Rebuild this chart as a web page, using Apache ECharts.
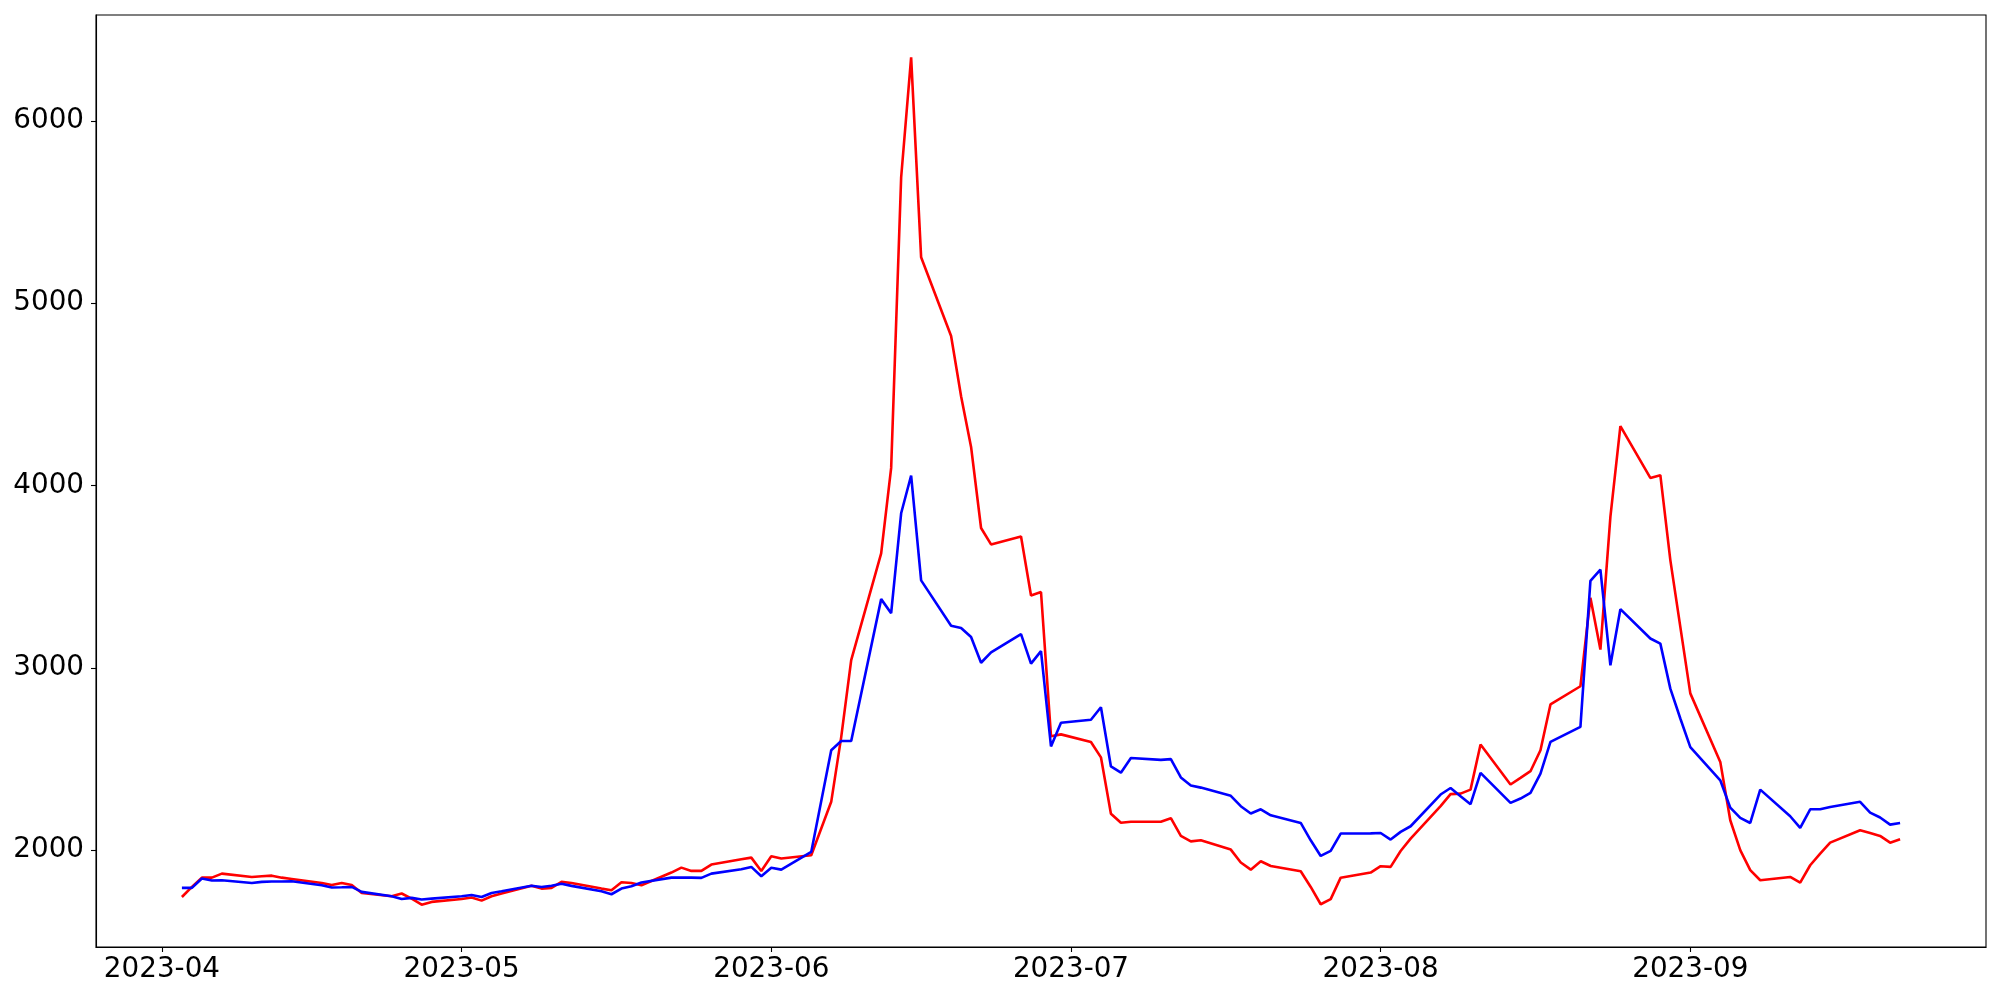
<!DOCTYPE html>
<html>
<head>
<meta charset="utf-8">
<script src="https://cdn.jsdelivr.net/npm/echarts@6/dist/echarts.min.js"></script>
<style>
  html, body { margin: 0; padding: 0; background: #ffffff; }
  #chart { width: 2000px; height: 1000px; }
</style>
</head>
<body>
<div id="chart"></div>
<script>
// Trading dates (weekdays)
const dates = [
  '2023-04-03','2023-04-04','2023-04-05','2023-04-06','2023-04-07',
  '2023-04-10','2023-04-11','2023-04-12','2023-04-13','2023-04-14',
  '2023-04-17','2023-04-18','2023-04-19','2023-04-20','2023-04-21',
  '2023-04-24','2023-04-25','2023-04-26','2023-04-27','2023-04-28',
  '2023-05-01','2023-05-02','2023-05-03','2023-05-04','2023-05-05',
  '2023-05-08','2023-05-09','2023-05-10','2023-05-11','2023-05-12',
  '2023-05-15','2023-05-16','2023-05-17','2023-05-18','2023-05-19',
  '2023-05-22','2023-05-23','2023-05-24','2023-05-25','2023-05-26',
  '2023-05-29','2023-05-30','2023-05-31','2023-06-01','2023-06-02',
  '2023-06-05','2023-06-07','2023-06-08','2023-06-09',
  '2023-06-12','2023-06-13','2023-06-14','2023-06-15','2023-06-16',
  '2023-06-19','2023-06-20','2023-06-21','2023-06-22','2023-06-23',
  '2023-06-26','2023-06-27','2023-06-28','2023-06-29','2023-06-30',
  '2023-07-03','2023-07-04','2023-07-05','2023-07-06','2023-07-07',
  '2023-07-10','2023-07-11','2023-07-12','2023-07-13','2023-07-14',
  '2023-07-17','2023-07-18','2023-07-19','2023-07-20','2023-07-21',
  '2023-07-24','2023-07-25','2023-07-26','2023-07-27','2023-07-28',
  '2023-07-31','2023-08-01','2023-08-02','2023-08-03','2023-08-04',
  '2023-08-07','2023-08-08','2023-08-09','2023-08-10','2023-08-11',
  '2023-08-14','2023-08-15','2023-08-16','2023-08-17','2023-08-18',
  '2023-08-21','2023-08-22','2023-08-23','2023-08-24','2023-08-25',
  '2023-08-28','2023-08-29','2023-08-30','2023-08-31','2023-09-01',
  '2023-09-04','2023-09-05','2023-09-06','2023-09-07','2023-09-08',
  '2023-09-11','2023-09-12','2023-09-13','2023-09-14','2023-09-15',
  '2023-09-18','2023-09-19','2023-09-20','2023-09-21','2023-09-22'
];

const redValues = [
  1743,1798,1849,1849,1871,
  1853,1857,1860,1849,1842,
  1820,1809,1820,1809,1765,
  1747,1762,1734,1701,1716,
  1732,1740,1723,1747,1762,
  1805,1789,1793,1826,1820,
  1789,1780,1824,1820,1807,
  1877,1904,1886,1886,1921,
  1950,1959,1886,1966,1954,
  1972,2265,2620,3042,
  3628,4097,5690,6349,5252,
  4820,4490,4212,3767,3677,
  3721,3397,3416,2625,2635,
  2593,2509,2200,2150,2156,
  2156,2175,2078,2048,2054,
  2003,1932,1893,1939,1913,
  1884,1798,1703,1731,1849,
  1877,1912,1908,1995,2063,
  2241,2307,2310,2332,2579,
  2360,2396,2433,2548,2799,
  2899,3384,3100,3828,4326,
  4042,4057,3591,3225,2860,
  2484,2164,2000,1890,1835,
  1853,1822,1917,1981,2041,
  2109,2094,2078,2041,2060
];

const blueValues = [
  1793,1793,1844,1833,1835,
  1820,1826,1828,1828,1829,
  1807,1795,1796,1798,1771,
  1747,1732,1738,1729,1734,
  1747,1754,1743,1765,1774,
  1805,1798,1805,1816,1804,
  1774,1758,1789,1802,1822,
  1849,1849,1849,1848,1871,
  1895,1908,1857,1903,1893,
  1990,2548,2599,2599,
  3377,3300,3848,4055,3480,
  3231,3219,3169,3028,3085,
  3185,3023,3092,2569,2699,
  2715,2784,2459,2425,2505,
  2495,2499,2399,2355,2343,
  2298,2241,2201,2224,2191,
  2149,2054,1968,1996,2091,
  2092,2094,2058,2100,2131,
  2305,2341,2296,2252,2424,
  2259,2283,2314,2420,2594,
  2676,3477,3539,3014,3322,
  3161,3133,2886,2722,2565,
  2383,2233,2177,2149,2332,
  2186,2122,2224,2224,2237,
  2265,2206,2179,2140,2149
];

const xTickDates = ['2023-04-01','2023-05-01','2023-06-01','2023-07-01','2023-08-01','2023-09-01'];
const xTickLabels = ['2023-04','2023-05','2023-06','2023-07','2023-08','2023-09'];
const yTicks = [2000, 3000, 4000, 5000, 6000];

// dates -> day number (UTC based, timezone independent)
function toDay(s) {
  const p = s.split('-').map(Number);
  return Date.UTC(p[0], p[1] - 1, p[2]) / 86400000;
}

const xs = dates.map(toDay);
const span = xs[xs.length - 1] - xs[0];
const xMin = xs[0] - 0.05 * span;
const xMax = xs[xs.length - 1] + 0.05 * span;

const allVals = redValues.concat(blueValues);
const vMin = Math.min.apply(null, allVals);
const vMax = Math.max.apply(null, allVals);
const yMin = vMin - 0.05 * (vMax - vMin);
const yMax = vMax + 0.05 * (vMax - vMin);

const xTickDays = xTickDates.map(toDay);

const chart = echarts.init(document.getElementById('chart'), null, { renderer: 'canvas' });

const font = 'DejaVu Sans';

chart.setOption({
  backgroundColor: '#ffffff',
  animation: false,
  grid: {
    left: 96, right: 14, top: 15, bottom: 53,
    show: true, borderColor: '#000000', borderWidth: 1.1,
    containLabel: false
  },
  xAxis: {
    type: 'value',
    min: xMin,
    max: xMax,
    scale: true,
    splitLine: { show: false },
    axisLine: { show: true, onZero: false, lineStyle: { color: '#000000', width: 1.1 } },
    axisTick: {
      show: true, length: 5, inside: false,
      customValues: xTickDays,
      lineStyle: { color: '#000000', width: 1.1 }
    },
    minorTick: { show: false },
    axisLabel: {
      show: true,
      customValues: xTickDays,
      color: '#000000',
      fontFamily: font,
      fontSize: 27.8,
      margin: 9,
      hideOverlap: false,
      showMinLabel: true,
      showMaxLabel: true,
      formatter: function (val) {
        let best = -1, bd = 1e9;
        for (let i = 0; i < xTickDays.length; i++) {
          const d = Math.abs(xTickDays[i] - val);
          if (d < bd) { bd = d; best = i; }
        }
        return bd < 0.5 ? xTickLabels[best] : '';
      }
    }
  },
  yAxis: {
    type: 'value',
    min: yMin,
    max: yMax,
    scale: true,
    splitLine: { show: false },
    axisLine: { show: true, onZero: false, lineStyle: { color: '#000000', width: 1.1 } },
    axisTick: {
      show: true, length: 5, inside: false,
      customValues: yTicks,
      lineStyle: { color: '#000000', width: 1.1 }
    },
    axisLabel: {
      show: true,
      customValues: yTicks,
      color: '#000000',
      fontFamily: font,
      fontSize: 27.8,
      margin: 12,
      formatter: function (v) { return String(Math.round(v)); }
    }
  },
  series: [
    {
      name: 'red',
      type: 'line',
      data: xs.map((t, i) => [t, redValues[i]]),
      showSymbol: false,
      symbol: 'none',
      lineStyle: { color: '#ff0000', width: 2.6 },
      itemStyle: { color: '#ff0000' },
      z: 2
    },
    {
      name: 'blue',
      type: 'line',
      data: xs.map((t, i) => [t, blueValues[i]]),
      showSymbol: false,
      symbol: 'none',
      lineStyle: { color: '#0000ff', width: 2.6 },
      itemStyle: { color: '#0000ff' },
      z: 3
    }
  ]
});
</script>
</body>
</html>
